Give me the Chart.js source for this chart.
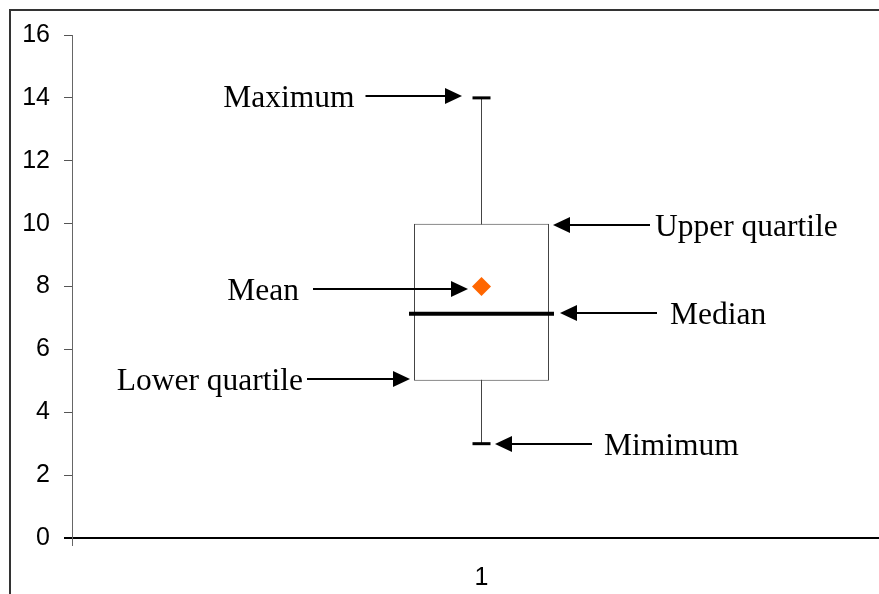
<!DOCTYPE html>
<html><head><meta charset="utf-8">
<script src="https://cdn.jsdelivr.net/npm/chart.js@4.4.1/dist/chart.umd.min.js"></script>
<style>html,body{margin:0;padding:0;overflow:hidden;background:#fff;} #wrap{width:891px;height:594px;}</style>
</head><body><div id="wrap"><canvas id="c" width="891" height="594"></canvas></div>
<script>
// ---- data ----
const categories = ['1'];
const minimum = [3];
const lowerQuartile = [5];
const median = [7.13];
const mean = [8];
const upperQuartile = [10];
const maximum = [14];
const annotationLabels = ['Maximum', 'Upper quartile', 'Mean', 'Median', 'Lower quartile', 'Mimimum'];
const annotationValues = [maximum[0], upperQuartile[0], mean[0], median[0], lowerQuartile[0], minimum[0]];

// ---- annotation layout (pixel offsets from the category centre) ----
const annotationLayout = [
  {tip: -19.5, tail: -116, text: -127, dy: -2},
  {tip: 71.5, tail: 168.5, text: 173.5, dy: 1},
  {tip: -13.5, tail: -168.5, text: -182.5, dy: 2},
  {tip: 78.5, tail: 175.5, text: 188.5, dy: -1},
  {tip: -71.5, tail: -174.5, text: -178.5, dy: -2},
  {tip: 13.5, tail: 110.5, text: 122.5, dy: 0}
];

const frame = {
  id: 'frame',
  beforeDraw(chart) {
    const ctx = chart.ctx;
    ctx.save();
    ctx.strokeStyle = '#333';
    ctx.lineWidth = 2;
    ctx.strokeRect(10, 10, 2000, 2000);
    ctx.restore();
  }
};

const annotate = {
  id: 'annotate',
  afterDatasetsDraw(chart) {
    const {ctx, scales: {x, y}} = chart;
    const cx = x.getPixelForValue(0);
    ctx.save();
    ctx.fillStyle = '#000';
    ctx.strokeStyle = '#000';
    ctx.lineWidth = 2;
    ctx.font = '31.5px "Liberation Serif", "Times New Roman", serif';
    annotationLabels.forEach((label, i) => {
      const L = annotationLayout[i];
      const py = Math.round(y.getPixelForValue(annotationValues[i]) + L.dy);
      const tip = cx + L.tip, tail = cx + L.tail;
      const dir = Math.sign(tip - tail);
      const head = 17, half = 8;
      ctx.beginPath();
      ctx.moveTo(tail, py);
      ctx.lineTo(tip - dir * head, py);
      ctx.stroke();
      ctx.beginPath();
      ctx.moveTo(tip, py);
      ctx.lineTo(tip - dir * head, py - half);
      ctx.lineTo(tip - dir * head, py + half);
      ctx.closePath();
      ctx.fill();
      ctx.textAlign = dir > 0 ? 'right' : 'left';
      ctx.textBaseline = 'alphabetic';
      ctx.fillText(label, cx + L.text, py + 10.5);
    });
    ctx.restore();
  }
};

const tickFont = {family: '"Liberation Sans", Arial, sans-serif', size: 25};

new Chart(document.getElementById('c'), {
  type: 'bar',
  data: {
    labels: categories,
    datasets: [
      {
        type: 'line',
        data: [{x: categories[0], y: minimum[0]}, {x: categories[0], y: maximum[0]}],
        borderColor: '#444',
        borderWidth: 1,
        pointRadius: 0,
        order: 6
      },
      {
        type: 'bar',
        data: [[lowerQuartile[0], upperQuartile[0]]],
        backgroundColor: '#fff',
        borderColor: '#444',
        borderWidth: 1,
        borderSkipped: false,
        barPercentage: 135 / 819,
        categoryPercentage: 1,
        grouped: false,
        order: 5
      },
      {
        type: 'line',
        data: maximum,
        showLine: false,
        pointStyle: 'line',
        pointRadius: 9,
        pointBorderWidth: 3,
        pointBorderColor: '#000',
        order: 3
      },
      {
        type: 'line',
        data: minimum,
        showLine: false,
        pointStyle: 'line',
        pointRadius: 9,
        pointBorderWidth: 3,
        pointBorderColor: '#000',
        order: 3
      },
      {
        type: 'line',
        data: median,
        showLine: false,
        pointStyle: 'line',
        pointRadius: 72.5,
        pointBorderWidth: 4,
        pointBorderColor: '#000',
        order: 2
      },
      {
        type: 'line',
        data: mean,
        showLine: false,
        pointStyle: 'rectRot',
        pointRadius: 9.5,
        pointBorderWidth: 0,
        pointBackgroundColor: '#FF6600',
        order: 1
      }
    ]
  },
  options: {
    responsive: false,
    animation: false,
    devicePixelRatio: 1,
    layout: {autoPadding: false, padding: {top: 35, left: 0, right: 0, bottom: 0}},
    plugins: {legend: {display: false}, tooltip: {enabled: false}},
    scales: {
      x: {
        type: 'category',
        offset: true,
        afterFit(s) { s.height = 56; },
        grid: {drawOnChartArea: false, drawTicks: true, tickLength: 8, offset: true, color: '#666'},
        border: {color: '#000', width: 2},
        ticks: {color: '#000', font: tickFont, padding: 17}
      },
      y: {
        min: 0,
        max: 16,
        afterFit(s) { s.width = 72; },
        ticks: {stepSize: 2, color: '#000', font: tickFont, padding: 14},
        grid: {
          drawOnChartArea: false, drawTicks: true, tickLength: 8,
          color: c => (c.tick && c.tick.value === 0) ? '#000' : '#555',
          lineWidth: c => (c.tick && c.tick.value === 0) ? 2 : 1
        },
        border: {color: '#666', width: 1}
      }
    }
  },
  plugins: [frame, annotate]
});
</script>
</body></html>
